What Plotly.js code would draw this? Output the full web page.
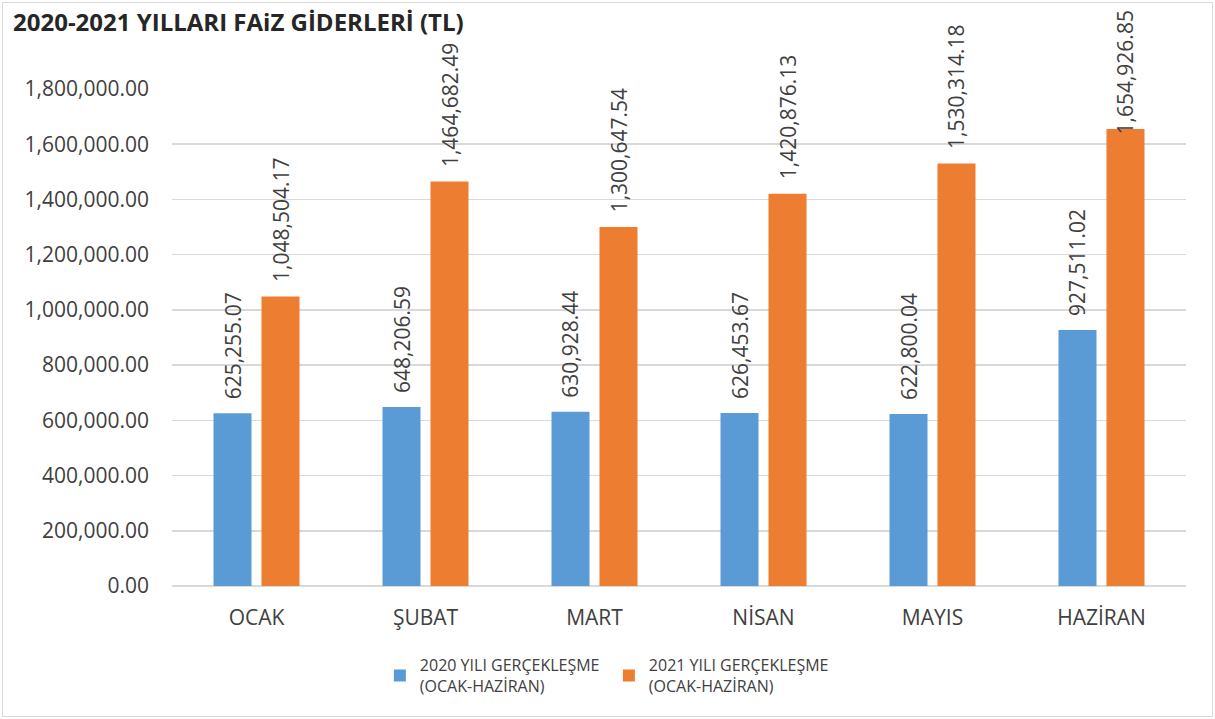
<!DOCTYPE html>
<html>
<head>
<meta charset="utf-8">
<script src="https://cdn.plot.ly/plotly-3.0.1.min.js"></script>
<style>
  html, body { margin: 0; padding: 0; background: #fff; }
  #wrap { position: relative; width: 1215px; height: 719px; }
  #chart { width: 1215px; height: 719px; }
  #frame { position: absolute; left: 2px; top: 2px; width: 1209px; height: 713px;
           border: 1px solid #d9d9d9; pointer-events: none; }
</style>
</head>
<body>
<div id="wrap"><div id="chart"></div><div id="frame"></div></div>
<script>
const months = ['OCAK', 'ŞUBAT', 'MART', 'NİSAN', 'MAYIS', 'HAZİRAN'];
const values2020 = [625255.07, 648206.59, 630928.44, 626453.67, 622800.04, 927511.02];
const values2021 = [1048504.17, 1464682.49, 1300647.54, 1420876.13, 1530314.18, 1654926.85];
const seriesNames = ['2020 YILI GERÇEKLEŞME<br>(OCAK-HAZİRAN)', '2021 YILI GERÇEKLEŞME<br>(OCAK-HAZİRAN)'];
const titleText = '2020-2021 YILLARI FAiZ GİDERLERİ (TL)';
const yTicks = [0, 200000, 400000, 600000, 800000, 1000000, 1200000, 1400000, 1600000, 1800000];

const FONT = 'Open Sans, Noto Sans, sans-serif';
const TXT = '#404040';
const fmt = v => v.toLocaleString('en-US', { minimumFractionDigits: 2, maximumFractionDigits: 2 });

const trace2020 = {
  type: 'bar', x: months, y: values2020, name: seriesNames[0],
  marker: { color: '#5B9BD5' }, hoverinfo: 'skip'
};
const trace2021 = {
  type: 'bar', x: months, y: values2021, name: seriesNames[1],
  marker: { color: '#ED7D31' }, hoverinfo: 'skip'
};

// value labels (rotated), anchored on each bar's top through the axes
const labelFont = { family: FONT, size: 21, color: TXT };
const annotations = [];
months.forEach((m, i) => {
  annotations.push({
    x: m, y: values2020[i], xref: 'x', yref: 'y', text: fmt(values2020[i]),
    textangle: -90, xanchor: 'center', yanchor: 'bottom', showarrow: false,
    xshift: -24, yshift: 12, font: labelFont
  });
  const last = i === months.length - 1;
  annotations.push({
    x: m, y: values2021[i], xref: 'x', yref: 'y', text: fmt(values2021[i]),
    textangle: -90, xanchor: 'center', yanchor: 'bottom', showarrow: false,
    xshift: 24, yshift: last ? -8 : 12, font: labelFont
  });
});

const layout = {
  width: 1215, height: 719,
  margin: { l: 172, r: 29, t: 89, b: 133 },
  paper_bgcolor: '#ffffff', plot_bgcolor: '#ffffff',
  font: { family: FONT, color: TXT },
  title: {
    text: '<b>' + titleText + '</b>',
    x: 0, xref: 'container', xanchor: 'left', y: 1, yref: 'container', yanchor: 'top',
    pad: { t: 14, l: 13 },
    font: { family: FONT, size: 24, color: '#262626' }
  },
  barmode: 'group', bargap: 0.432, bargroupgap: 0.208,
  xaxis: {
    type: 'category', showgrid: false, zeroline: false, showline: false,
    ticks: '', ticklabelstandoff: 17,
    tickfont: { family: FONT, size: 21, color: TXT }
  },
  yaxis: {
    range: [0, 1800000], tickvals: yTicks, tickformat: ',.2f',
    showgrid: true, gridcolor: '#d9d9d9', gridwidth: 1.5,
    zeroline: true, zerolinecolor: '#d9d9d9', zerolinewidth: 1.5,
    showline: false, ticks: '', ticklabelstandoff: 22,
    tickfont: { family: FONT, size: 21, color: TXT }
  },
  legend: {
    orientation: 'h', x: 0.205, xanchor: 'left', y: -0.125, yanchor: 'top',
    font: { family: FONT, size: 16, color: TXT },
    itemwidth: 30, entrywidth: 184, entrywidthmode: 'pixels'
  },
  annotations: annotations,
  showlegend: true
};

Plotly.newPlot('chart', [trace2020, trace2021], layout, { displayModeBar: false, staticPlot: true });
</script>
</body>
</html>
